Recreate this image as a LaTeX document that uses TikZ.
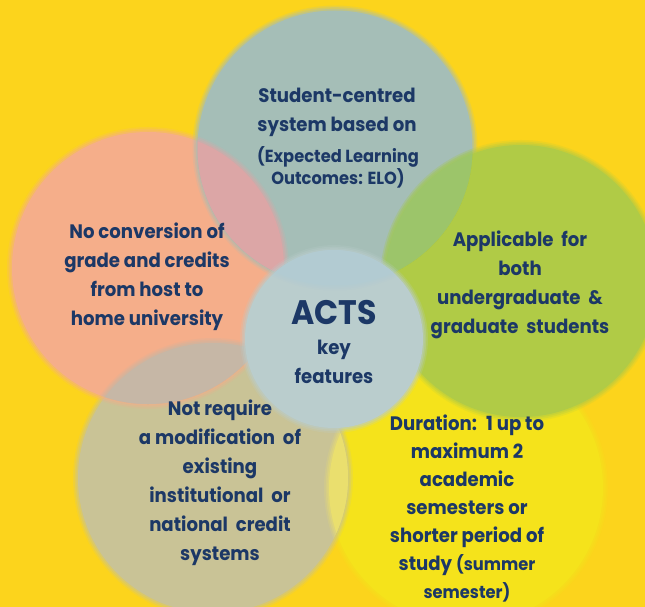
\documentclass[tikz,border=0pt]{standalone}
\usepackage{fontspec}
\setmainfont{Poppins}[FakeStretch=0.93]
\definecolor{bgc}{HTML}{FCD41C}
\definecolor{topc}{HTML}{A5BEB7}
\definecolor{leftc}{HTML}{F5AE8A}
\definecolor{rightc}{HTML}{B0CB46}
\definecolor{blc}{HTML}{C9C396}
\definecolor{brc}{HTML}{F5E31B}
\definecolor{cenc}{HTML}{BACDCD}
\definecolor{tlc}{HTML}{DCA6A6}
\definecolor{trc}{HTML}{9CC56A}
\definecolor{lblc}{HTML}{C6B7A6}
\definecolor{blbrc}{HTML}{EADF6E}
\definecolor{ctc}{HTML}{B2CBD2}
\definecolor{txtc}{HTML}{1C3866}
\newcommand\bodyfont{\fontsize{19.5}{29}\selectfont\bfseries}
\newcommand\smallfont{\fontsize{17.5}{22}\selectfont\bfseries}
\newcommand\softdisc[4]{%
  \fill[#4, opacity=0.2] (#1,#2) circle ({#3pt+5pt});
  \fill[#4, opacity=0.3] (#1,#2) circle ({#3pt+3.3pt});
  \fill[#4, opacity=0.4] (#1,#2) circle ({#3pt+1.6pt});
  \fill[#4] (#1,#2) circle ({#3pt});}
\tikzset{
  txt/.style={text=txtc, font=\bodyfont, align=center, inner sep=0pt},
  stxt/.style={text=txtc, font=\smallfont, align=center, inner sep=0pt},
}
\begin{document}
\begin{tikzpicture}[x=1pt,y=-1pt]
\fill[bgc] (0,0) rectangle (645,607);
\useasboundingbox (0,0) rectangle (645,607);
% circles
\softdisc{466}{488}{137}{brc}
\softdisc{213}{478}{135}{blc}
\softdisc{148}{268}{136}{leftc}
\softdisc{335}{148}{137.5}{topc}
\softdisc{521}{281}{136}{rightc}
% lenses
\begin{scope}
  \clip (335,148) circle (137.5pt);
  \softdisc{148}{268}{136}{tlc}
\end{scope}
\begin{scope}
  \clip (335,148) circle (137.5pt);
  \softdisc{521}{281}{136}{trc}
\end{scope}
\begin{scope}
  \clip (148,268) circle (136pt);
  \softdisc{213}{478}{135}{lblc}
\end{scope}
\begin{scope}
  \clip (213,478) circle (135pt);
  \softdisc{466}{488}{137}{blbrc}
\end{scope}
% centre
\softdisc{334}{339}{89}{cenc}
\begin{scope}
  \clip (334,339) circle (89pt);
  \softdisc{335}{148}{137.5}{ctc}
\end{scope}
% texts
\node[txt] (t1) at (337,112) {Student-centred\\system based on};
\node[stxt] (t2) at (338,167) {(Expected Learning\\Outcomes: ELO)};
\node[txt] (l) at (147,277) {No conversion of\\grade and credits\\from host to\\home university};
\node[txt] (r) at (520,285) {Applicable\hspace{4pt} for\\both\\undergraduate\hspace{4pt} \&\\graduate\hspace{4pt} students};
\node[text=txtc, font=\fontsize{34}{34}\selectfont\bfseries, inner sep=0pt] (acts) at (334,313) {ACTS};
\node[txt] (kf) at (334,362) {key\\features};
\node[txt] (bl) at (220,483) {Not require\\a modification\hspace{4pt} of\\existing\\institutional\hspace{4pt} or\\national\hspace{4pt} credit\\systems};
\node[txt, font=\fontsize{19.5}{28}\selectfont\bfseries] (br) at (467,509) {Duration:\hspace{4pt} 1 up to\\maximum 2\\academic\\semesters or\\shorter period of\\study {\smallfont(summer}\\{\smallfont semester)}};
\end{tikzpicture}
\end{document}
